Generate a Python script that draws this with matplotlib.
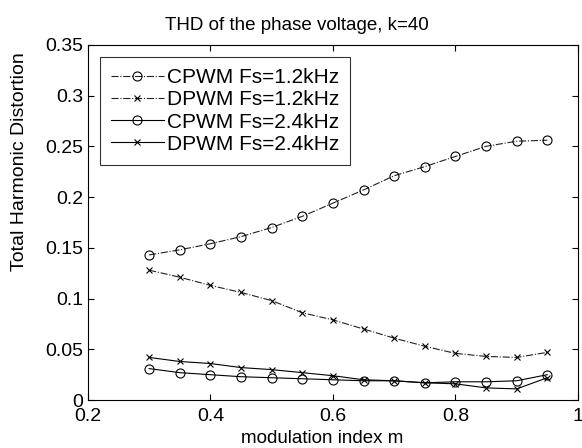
import numpy as np
import matplotlib
matplotlib.use('Agg')
import matplotlib.pyplot as plt
from matplotlib.ticker import FormatStrFormatter

plt.rcParams['font.family'] = ['Liberation Sans', 'DejaVu Sans']

m = [0.3, 0.35, 0.4, 0.45, 0.5, 0.55, 0.6, 0.65, 0.7, 0.75, 0.8, 0.85, 0.9, 0.95]
cpwm_12 = [0.143, 0.148, 0.154, 0.161, 0.170, 0.181, 0.194, 0.207, 0.221, 0.230, 0.240, 0.250, 0.255, 0.256]
dpwm_12 = [0.128, 0.121, 0.113, 0.106, 0.098, 0.086, 0.079, 0.070, 0.061, 0.053, 0.046, 0.043, 0.042, 0.047]
cpwm_24 = [0.031, 0.027, 0.025, 0.023, 0.022, 0.021, 0.020, 0.019, 0.019, 0.017, 0.018, 0.018, 0.019, 0.025]
dpwm_24 = [0.042, 0.038, 0.036, 0.032, 0.030, 0.027, 0.024, 0.020, 0.019, 0.017, 0.016, 0.012, 0.011, 0.022]
labels = ['CPWM Fs=1.2kHz', 'DPWM Fs=1.2kHz', 'CPWM Fs=2.4kHz', 'DPWM Fs=2.4kHz']

fig = plt.figure(figsize=(5.82, 4.48), dpi=100)
ax = fig.add_axes([0.151, 0.107, 0.842, 0.793])

ax.plot(m, cpwm_12, '-.', color='#222222', lw=0.8, marker='o', ms=6.5, mfc='none', mec='black', mew=0.8, label=labels[0])
ax.plot(m, dpwm_12, '-.', color='#222222', lw=0.8, marker='x', ms=4, mec='black', mew=0.8, label=labels[1])
ax.plot(m, cpwm_24, '-', color='black', lw=0.8, marker='o', ms=6.5, mfc='none', mec='black', mew=0.8, label=labels[2])
ax.plot(m, dpwm_24, '-', color='black', lw=0.8, marker='x', ms=4, mec='black', mew=0.8, label=labels[3])

ax.set_xlim(0.2, 1)
ax.set_ylim(0, 0.35)
ax.set_xticks([0.2, 0.4, 0.6, 0.8, 1.0])
ax.set_yticks(np.arange(0, 0.351, 0.05))
ax.xaxis.set_major_formatter(FormatStrFormatter('%g'))
ax.yaxis.set_major_formatter(FormatStrFormatter('%g'))
ax.tick_params(direction='in', top=True, right=True, labelsize=14, length=4, width=0.8)
ax.tick_params(axis='x', pad=6)
for s in ax.spines.values():
    s.set_linewidth(0.8)

# title and labels sit off-centre in the original
ax.set_title('THD of the phase voltage, k=40', fontsize=13.5, pad=11, x=0.427)
ax.set_xlabel('modulation index m', fontsize=13.5)
ax.xaxis.set_label_coords(0.478, -0.085)
ax.set_ylabel('Total Harmonic Distortion', fontsize=14)
ax.yaxis.set_label_coords(-0.122, 0.67)

leg = ax.legend(loc='upper left', fontsize=15, frameon=True, fancybox=False,
                edgecolor='black', handlelength=2.5, borderpad=0.55, labelspacing=0.15,
                handletextpad=0.15, borderaxespad=0.58)
leg.get_frame().set_linewidth(0.8)

fig.savefig('out.png', dpi=100)
